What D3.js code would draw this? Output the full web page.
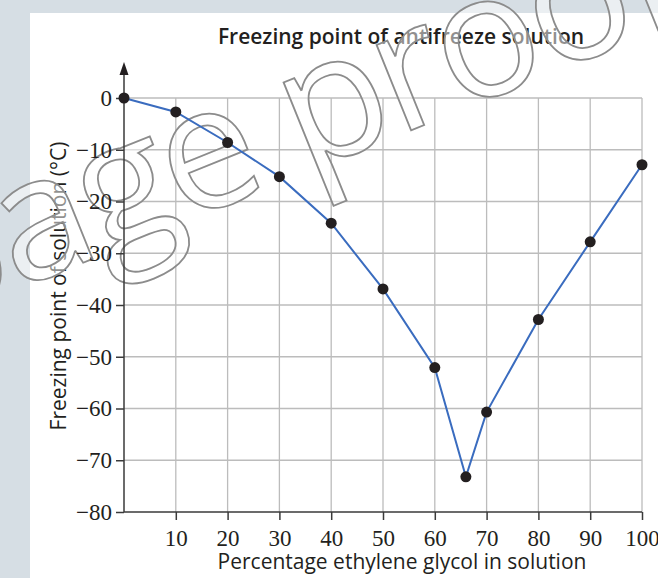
<!DOCTYPE html>
<html lang="en">
<head>
    <meta charset="UTF-8">
    <title>Freezing point of antifreeze solution</title>
    <script src="https://d3js.org/d3.v7.min.js"></script>
    <style>
        body { margin: 0; background: #d6dee4; }
        svg { display: block; }
        .sans { font-family: 'Open Sans', sans-serif; fill: #231f20; }
        .tick text { font-family: 'Liberation Serif', 'Times New Roman', serif; font-size: 23px; fill: #231f20; }
    </style>
</head>
<body>
<script>
    const width  = 658;
    const height = 578;

    // data
    const percent  = [0, 10, 20, 30, 40, 50, 60, 66, 70, 80, 90, 100];
    const freezing = [0, -2.7, -8.6, -15.2, -24.2, -36.9, -52.1, -73.2, -60.7, -42.8, -27.8, -12.9];
    const xTicks = [10, 20, 30, 40, 50, 60, 70, 80, 90, 100];
    const yTicks = [0, -10, -20, -30, -40, -50, -60, -70, -80];

    const data = percent.map((p, i) => [p, freezing[i]]);

    const x = d3.scaleLinear().domain([0, 100]).range([124, 642]);
    const y = d3.scaleLinear().domain([-80, 0]).range([512, 98]);

    const svg = d3.select("body").append("svg").attr("width", width).attr("height", height);

    // white panel
    svg.append("rect")
        .attr("x", 30).attr("y", 13)
        .attr("width", width - 30).attr("height", height - 13)
        .attr("fill", "#fff");

    // grid
    const grid = svg.append("g").attr("stroke", "#bcbcbc").attr("stroke-width", 1.3);
    grid.selectAll(".vx")
        .data(xTicks)
        .enter().append("line")
        .attr("x1", d => x(d)).attr("x2", d => x(d))
        .attr("y1", y(0)).attr("y2", y(-80));
    grid.selectAll(".hy")
        .data(yTicks.slice(0, -1))
        .enter().append("line")
        .attr("x1", x(0)).attr("x2", x(100))
        .attr("y1", d => y(d)).attr("y2", d => y(d));

    // axes
    const yAxis = d3.axisLeft(y).tickValues(yTicks).tickSize(8).tickPadding(4);
    const gy = svg.append("g").attr("transform", "translate(" + x(0) + ",0)").call(yAxis);
    gy.select(".domain").remove();

    const xAxis = d3.axisBottom(x).tickValues(xTicks).tickSize(8).tickPadding(10);
    const gx = svg.append("g").attr("transform", "translate(0," + y(-80) + ")").call(xAxis);
    gx.select(".domain").remove();

    svg.selectAll(".tick line").attr("stroke", "#3a3a3a").attr("stroke-width", 1.5);

    // titles
    svg.append("text").attr("class", "sans")
        .attr("x", 401).attr("y", 44)
        .attr("text-anchor", "middle")
        .attr("font-size", 21).attr("font-weight", 600)
        .text("Freezing point of antifreeze solution");

    svg.append("text").attr("class", "sans")
        .attr("x", 402).attr("y", 569)
        .attr("text-anchor", "middle")
        .attr("font-size", 21)
        .text("Percentage ethylene glycol in solution");

    svg.append("text").attr("class", "sans")
        .attr("transform", "translate(66,286) rotate(-90)")
        .attr("text-anchor", "middle")
        .attr("font-size", 21)
        .text("Freezing point of solution (°C)");

    // watermark
    svg.append("text")
        .attr("transform", "translate(-76,327) rotate(-22)")
        .attr("font-family", "'Open Sans', sans-serif")
        .attr("font-size", 172)
        .attr("letter-spacing", -5)
        .attr("fill", "#fff")
        .attr("fill-opacity", 0.5)
        .attr("stroke", "#8c8c8c")
        .attr("stroke-width", 1.8)
        .text("page proof");

    svg.append("line")
        .attr("x1", x(0)).attr("x2", x(100))
        .attr("y1", y(-80)).attr("y2", y(-80))
        .attr("stroke", "#3a3a3a").attr("stroke-width", 1.5);
    svg.append("line")
        .attr("x1", x(0)).attr("x2", x(0))
        .attr("y1", y(-80)).attr("y2", 70)
        .attr("stroke", "#3a3a3a").attr("stroke-width", 1.5);
    svg.append("path")
        .attr("d", "M" + x(0) + ",62 l-4.5,13 l9,0 z")
        .attr("fill", "#231f20");
    gy.raise();
    gy.selectAll("text").lower();

    // curve
    const line = d3.line().x(d => x(d[0])).y(d => y(d[1]));
    svg.append("path")
        .attr("d", line(data))
        .attr("fill", "none")
        .attr("stroke", "#3a6cbf")
        .attr("stroke-width", 2);

    svg.selectAll(".point")
        .data(data)
        .enter().append("circle").attr("class", "point")
        .attr("cx", d => x(d[0]))
        .attr("cy", d => y(d[1]))
        .attr("r", 5.5)
        .attr("fill", "#231f20");
</script>
</body>
</html>
